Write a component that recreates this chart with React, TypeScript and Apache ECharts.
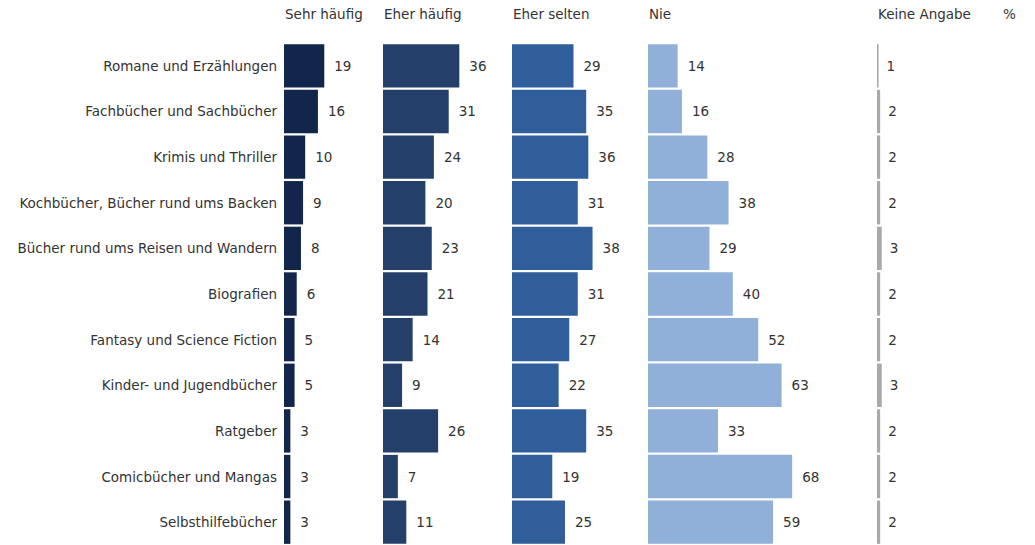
import React, { useEffect, useRef } from "react";
import * as echarts from "echarts";

const categories = [
  "Romane und Erzählungen",
  "Fachbücher und Sachbücher",
  "Krimis und Thriller",
  "Kochbücher, Bücher rund ums Backen",
  "Bücher rund ums Reisen und Wandern",
  "Biografien",
  "Fantasy und Science Fiction",
  "Kinder- und Jugendbücher",
  "Ratgeber",
  "Comicbücher und Mangas",
  "Selbsthilfebücher",
];

const seriesNames = ["Sehr häufig", "Eher häufig", "Eher selten", "Nie", "Keine Angabe"];

const sehrHaeufig = [19, 16, 10, 9, 8, 6, 5, 5, 3, 3, 3];
const eherHaeufig = [36, 31, 24, 20, 23, 21, 14, 9, 26, 7, 11];
const eherSelten = [29, 35, 36, 31, 38, 31, 27, 22, 35, 19, 25];
const nie = [14, 16, 28, 38, 29, 40, 52, 63, 33, 68, 59];
const keineAngabe = [1, 2, 2, 2, 3, 2, 2, 3, 2, 2, 2];

const unitLabel = "%";

const seriesData = [sehrHaeufig, eherHaeufig, eherSelten, nie, keineAngabe];
const colors = ["#11264a", "#24406a", "#2f5e9a", "#90b0da", "#a9a9a9"];
const panelLefts = [284, 383, 512, 648, 877];

const FONT = "'DejaVu Sans', Arial, sans-serif";
const FS = 13.5;

export default function App() {
  const ref = useRef<HTMLDivElement>(null);
  useEffect(() => {
    if (!ref.current) return;
    const chart = echarts.init(ref.current, null, { renderer: "svg" });
    const top = 43;
    const height = 505;
    const grids = panelLefts.map((l) => ({ left: l, top, width: 212, height }));
    const xAxes = panelLefts.map((_, i) => ({
      type: "value" as const,
      gridIndex: i,
      min: 0,
      max: 100,
      show: false,
    }));
    const yAxes = panelLefts.map((_, i) => ({
      type: "category" as const,
      gridIndex: i,
      data: categories,
      inverse: true,
      axisLine: { show: false },
      axisTick: { show: false },
      axisLabel:
        i === 0
          ? { show: true, margin: 7, color: "#333", fontSize: FS, fontFamily: FONT }
          : { show: false },
    }));
    const series = seriesData.map((d, i) => ({
      type: "bar" as const,
      name: seriesNames[i],
      xAxisIndex: i,
      yAxisIndex: i,
      data: d,
      barCategoryGap: "5%",
      itemStyle: { color: colors[i] },
      label: {
        show: true,
        position: "right" as const,
        distance: i === 4 ? 8 : 10,
        color: "#333",
        fontSize: FS,
        fontFamily: FONT,
      },
    }));
    const headers = seriesNames.map((n, i) => ({
      type: "text" as const,
      left: panelLefts[i] + 1,
      top: 7,
      style: { text: n, fill: "#333", fontSize: FS, fontFamily: FONT },
    }));
    headers.push({
      type: "text" as const,
      left: 1003,
      top: 7,
      style: { text: unitLabel, fill: "#333", fontSize: FS, fontFamily: FONT },
    });
    chart.setOption({
      animation: false,
      backgroundColor: "#ffffff",
      grid: grids,
      xAxis: xAxes,
      yAxis: yAxes,
      series,
      graphic: headers,
    });
    return () => chart.dispose();
  }, []);
  return (
    <div
      ref={ref}
      style={{ position: "fixed", left: 0, top: 0, width: 1035, height: 545 }}
    />
  );
}
